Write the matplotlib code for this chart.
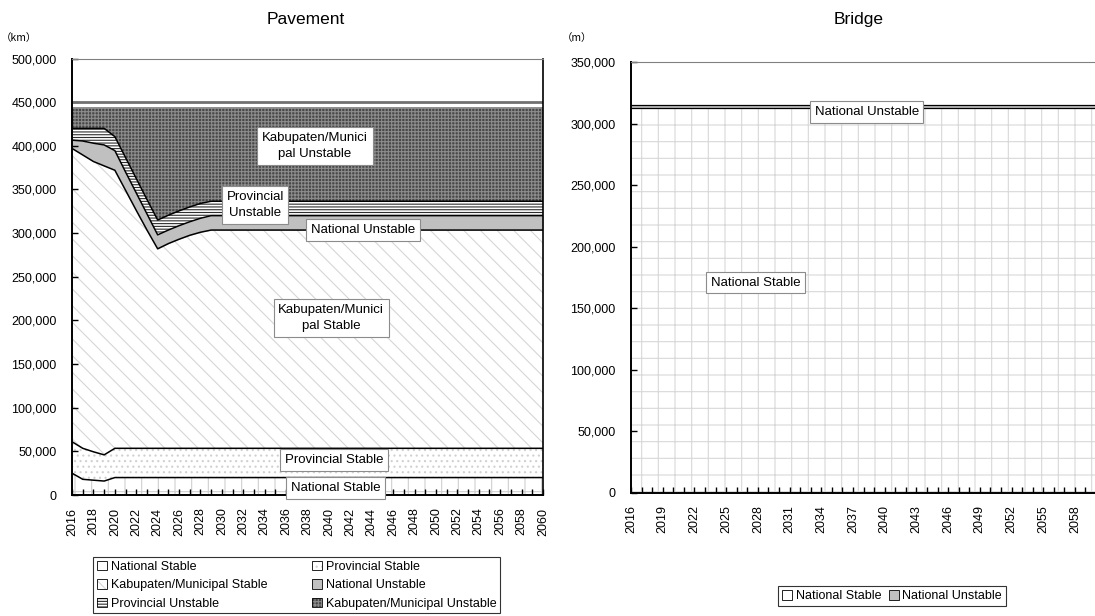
import numpy as np
import matplotlib
matplotlib.use("Agg")
import matplotlib.pyplot as plt
from matplotlib.patches import Patch
from matplotlib.ticker import FuncFormatter, MultipleLocator

plt.rcParams['font.family'] = ['Liberation Sans', 'DejaVu Sans']
plt.rcParams['hatch.linewidth'] = 0.8

years = list(range(2016, 2061))

# Pavement length by class (km), stacked bottom to top
nat_stable = [25000, 18000, 17000, 16000, 20000, 20000, 20000, 20000, 20000, 20000,
              20000, 20000, 20000, 20000, 20000, 20000, 20000, 20000, 20000, 20000,
              20000, 20000, 20000, 20000, 20000, 20000, 20000, 20000, 20000, 20000,
              20000, 20000, 20000, 20000, 20000, 20000, 20000, 20000, 20000, 20000,
              20000, 20000, 20000, 20000, 20000]
prov_stable = [36000, 35500, 32500, 30000, 33500, 33500, 33500, 33500, 33500, 33500,
               33500, 33500, 33500, 33500, 33500, 33500, 33500, 33500, 33500, 33500,
               33500, 33500, 33500, 33500, 33500, 33500, 33500, 33500, 33500, 33500,
               33500, 33500, 33500, 33500, 33500, 33500, 33500, 33500, 33500, 33500,
               33500, 33500, 33500, 33500, 33500]
kab_stable = [336000, 336000, 332500, 331000, 318500, 295500, 272500, 250000, 228500, 234500,
              239500, 244000, 247500, 250000, 250000, 250000, 250000, 250000, 250000, 250000,
              250000, 250000, 250000, 250000, 250000, 250000, 250000, 250000, 250000, 250000,
              250000, 250000, 250000, 250000, 250000, 250000, 250000, 250000, 250000, 250000,
              250000, 250000, 250000, 250000, 250000]
nat_unstable = [9500, 16000, 21000, 24000, 22500, 21000, 20000, 18500, 16000, 15500,
                15500, 15500, 16000, 16500, 16500, 16500, 16500, 16500, 16500, 16500,
                16500, 16500, 16500, 16500, 16500, 16500, 16500, 16500, 16500, 16500,
                16500, 16500, 16500, 16500, 16500, 16500, 16500, 16500, 16500, 16500,
                16500, 16500, 16500, 16500, 16500]
prov_unstable = [13500, 14500, 17000, 19000, 16000, 16500, 16500, 16500, 17000, 17000,
                 17000, 17000, 17000, 16500, 16500, 16500, 16500, 16500, 16500, 16500,
                 16500, 16500, 16500, 16500, 16500, 16500, 16500, 16500, 16500, 16500,
                 16500, 16500, 16500, 16500, 16500, 16500, 16500, 16500, 16500, 16500,
                 16500, 16500, 16500, 16500, 16500]
kab_unstable = [24000, 24000, 24000, 24000, 33500, 57500, 81500, 105500, 129000, 123500,
                118500, 114000, 110000, 107500, 107500, 107500, 107500, 107500, 107500, 107500,
                107500, 107500, 107500, 107500, 107500, 107500, 107500, 107500, 107500, 107500,
                107500, 107500, 107500, 107500, 107500, 107500, 107500, 107500, 107500, 107500,
                107500, 107500, 107500, 107500, 107500]

# Bridge length (m)
br_nat_stable = [312500, 312500, 312500, 312500, 312500, 312500, 312500, 312500, 312500, 312500,
                 312500, 312500, 312500, 312500, 312500, 312500, 312500, 312500, 312500, 312500,
                 312500, 312500, 312500, 312500, 312500, 312500, 312500, 312500, 312500, 312500,
                 312500, 312500, 312500, 312500, 312500, 312500, 312500, 312500, 312500, 312500,
                 312500, 312500, 312500, 312500, 312500]
br_nat_unstable = [2500, 2500, 2500, 2500, 2500, 2500, 2500, 2500, 2500, 2500,
                   2500, 2500, 2500, 2500, 2500, 2500, 2500, 2500, 2500, 2500,
                   2500, 2500, 2500, 2500, 2500, 2500, 2500, 2500, 2500, 2500,
                   2500, 2500, 2500, 2500, 2500, 2500, 2500, 2500, 2500, 2500,
                   2500, 2500, 2500, 2500, 2500]

pave_names = ["National Stable", "Provincial Stable", "Kabupaten/Municipal Stable",
              "National Unstable", "Provincial Unstable", "Kabupaten/Municipal Unstable"]
pave_series = [nat_stable, prov_stable, kab_stable, nat_unstable, prov_unstable, kab_unstable]
# (facecolor, hatch colour, hatch)
pave_styles = [("white", "#cfcfcf", "+"),
               ("white", "#d0d0d0", "..."),
               ("white", "#d6d6d6", "\\\\"),
               ("#c0c0c0", "#c0c0c0", None),
               ("white", "#2e2e2e", "------"),
               ("#474747", "#8c8c8c", "+++++")]

label_font = ['Liberation Sans', 'DejaVu Sans']
box = dict(boxstyle="square,pad=0.35", fc="white", ec="#8c8c8c", lw=0.8)
fmt = FuncFormatter(lambda v, p: f"{int(v):,}")

fig = plt.figure(figsize=(10.95, 6.16), dpi=100)

# ---- Pavement ----
ax1 = fig.add_axes([0.0658, 0.1964, 0.4301, 0.7086])
x = np.array(years)
base = np.zeros(len(years))
for name, vals, (fc, hc, hatch) in zip(pave_names, pave_series, pave_styles):
    top = base + np.array(vals)
    ax1.fill_between(x, base, top, facecolor=fc, edgecolor=hc, hatch=hatch, linewidth=0)
    if name != "Kabupaten/Municipal Unstable":
        ax1.plot(x, top, color="black", lw=1.1)
    base = top

ax1.axhline(450000, color="#707070", lw=2)
ax1.set_xlim(2016, 2060)
ax1.set_ylim(0, 500000)
ax1.set_yticks(np.arange(0, 500001, 50000))
ax1.yaxis.set_major_formatter(fmt)
ax1.set_xticks(years[::2])
ax1.set_xticklabels([str(y) for y in years[::2]], rotation=90)
ax1.xaxis.set_minor_locator(MultipleLocator(1))

texts1 = [("Kabupaten/Munici\npal Unstable", 2038.7, 400000),
          ("Provincial\nUnstable", 2033.1, 332000),
          ("National Unstable", 2043.2, 303500),
          ("Kabupaten/Munici\npal Stable", 2040.2, 202700),
          ("Provincial Stable", 2040.5, 40000),
          ("National Stable", 2040.6, 8000)]
for t, tx, ty in texts1:
    ax1.text(tx, ty, t, ha="center", va="center", fontsize=9.5, family=label_font,
             bbox=box, linespacing=1.5, zorder=5)

# ---- Bridge ----
ax2 = fig.add_axes([0.5763, 0.2002, 0.4237, 0.6988])
b_top = np.array(br_nat_stable)
ax2.fill_between(x, 0, b_top, facecolor="white", edgecolor="#d8d8d8", hatch="+", linewidth=0)
ax2.fill_between(x, b_top, b_top + np.array(br_nat_unstable), facecolor="#c0c0c0", linewidth=0)
ax2.plot(x, b_top, color="black", lw=0.9)
ax2.plot(x, b_top + np.array(br_nat_unstable), color="black", lw=0.9)
ax2.set_xlim(2016, 2059.9)
ax2.set_ylim(0, 350000)
ax2.set_yticks(np.arange(0, 350001, 50000))
ax2.yaxis.set_major_formatter(fmt)
ax2.set_xticks(years[::3])
ax2.set_xticklabels([str(y) for y in years[::3]], rotation=90)
ax2.xaxis.set_minor_locator(MultipleLocator(1))
ax2.spines["right"].set_visible(False)

ax2.text(2038.3, 309500, "National Unstable", ha="center", va="center", fontsize=9.5,
         family=label_font, bbox=box, zorder=5)
ax2.text(2027.8, 170600, "National Stable", ha="center", va="center", fontsize=9.5,
         family=label_font, bbox=box, zorder=5)

for ax in (ax1, ax2):
    ax.tick_params(axis="both", which="both", direction="in", labelsize=9, length=4, width=1)
    ax.tick_params(axis="x", which="both", pad=9)
    ax.tick_params(axis="y", which="both", pad=11)
    for s in ("left", "bottom"):
        ax.spines[s].set_linewidth(1.4)
    ax.spines["top"].set_color("#808080")
    ax.spines["top"].set_linewidth(0.8)
ax1.spines["right"].set_linewidth(1.2)

fig.text(0.2795, 0.969, "Pavement", ha="center", va="center", fontsize=12.5)
fig.text(0.7845, 0.969, "Bridge", ha="center", va="center", fontsize=12.5)
fig.text(0.017, 0.938, "（km）", ha="center", va="center", fontsize=7.5,
         family=['Noto Sans CJK JP', 'DejaVu Sans'])
fig.text(0.527, 0.938, "（m）", ha="center", va="center", fontsize=7.5,
         family=['Noto Sans CJK JP', 'DejaVu Sans'])

# legends: pattern patch overlaid with a black outline
pave_handles = [(Patch(facecolor=fc, edgecolor=hc, hatch=hatch, linewidth=0),
                 Patch(facecolor="none", edgecolor="black", linewidth=0.6))
                for fc, hc, hatch in pave_styles]
order = [0, 2, 4, 1, 3, 5]
leg1 = fig.legend([pave_handles[i] for i in order], [pave_names[i] for i in order],
                  loc="center", bbox_to_anchor=(0.271, 0.050), ncol=2, frameon=True,
                  fancybox=False, edgecolor="black", handlelength=0.8,
                  handleheight=0.8, handletextpad=0.3, columnspacing=3.6,
                  labelspacing=0.5, borderpad=0.3, prop={'family': label_font, 'size': 9})
leg1.get_frame().set_linewidth(0.8)

br_handles = [Patch(facecolor="white", edgecolor="black", linewidth=0.6),
              Patch(facecolor="#c0c0c0", edgecolor="black", linewidth=0.6)]
leg2 = fig.legend(br_handles, ["National Stable", "National Unstable"],
                  loc="center", bbox_to_anchor=(0.8145, 0.032), ncol=2, frameon=True,
                  fancybox=False, edgecolor="black", handlelength=0.8, handleheight=0.8,
                  handletextpad=0.3, columnspacing=0.6, borderpad=0.3,
                  prop={'family': label_font, 'size': 9})
leg2.get_frame().set_linewidth(0.8)

fig.savefig("out.png", dpi=100)
